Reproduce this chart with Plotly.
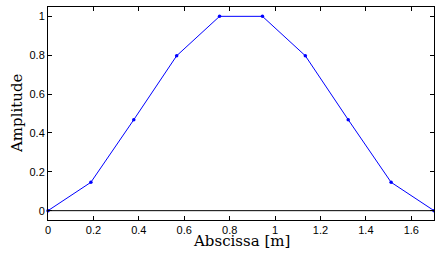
import plotly.graph_objects as go

x_vals = [0, 0.1889, 0.3778, 0.5667, 0.7556, 0.9444, 1.1333, 1.3222, 1.5111, 1.7]
y_vals = [0, 0.146, 0.468, 0.797, 1.0, 1.0, 0.797, 0.468, 0.146, 0]
x_ticks = [0, 0.2, 0.4, 0.6, 0.8, 1, 1.2, 1.4, 1.6]
y_ticks = [0, 0.2, 0.4, 0.6, 0.8, 1]
x_title = "Abscissa [m]"
y_title = "Amplitude"

L, R, T, B = 48, 1, 7, 37
W, H = 435, 257
pw, ph = W - L - R, H - T - B

fig = go.Figure()
fig.add_trace(go.Scatter(
    x=x_vals, y=y_vals, mode="lines+markers",
    line=dict(color="#0000ff", width=1),
    marker=dict(color="#0000ff", size=3.5),
    cliponaxis=False, showlegend=False))

fig.add_hline(y=0, line=dict(color="black", width=1))

title_font = dict(family="DejaVu Serif, Liberation Serif, serif", size=15, color="black")
fig.add_annotation(text=x_title, xref="paper", yref="paper", x=0.5, y=-(241 - (H - B)) / ph,
                   xanchor="center", yanchor="middle", showarrow=False, font=title_font)
fig.add_annotation(text=y_title, xref="paper", yref="paper", x=-(L - 16.5) / pw, y=0.5,
                   xanchor="center", yanchor="middle", textangle=-90, showarrow=False, font=title_font)

fig.update_layout(
    width=W, height=H,
    margin=dict(l=L, r=R, t=T, b=B, autoexpand=False),
    paper_bgcolor="white", plot_bgcolor="white",
    font=dict(family="Liberation Sans, Arial, sans-serif", size=11, color="black"),
)
fig.update_xaxes(
    range=[0, 1.7], tickvals=x_ticks, ticktext=["0", "0.2", "0.4", "0.6", "0.8", "1", "1.2", "1.4", "1.6"],
    ticks="inside", ticklen=4, tickcolor="black", showline=True, linecolor="black", linewidth=1,
    mirror="ticks", showgrid=False, zeroline=False, automargin=False,
)
fig.update_yaxes(
    range=[-0.048, 1.048], tickvals=y_ticks, ticktext=["0", "0.2", "0.4", "0.6", "0.8", "1"],
    ticks="inside", ticklen=4, tickcolor="black", showline=True, linecolor="black", linewidth=1,
    mirror="ticks", showgrid=False, zeroline=False, automargin=False,
)

fig.write_html("out.html", config={"displayModeBar": False},
               post_script="document.body.style.margin='0px';document.body.style.overflow='hidden';")
